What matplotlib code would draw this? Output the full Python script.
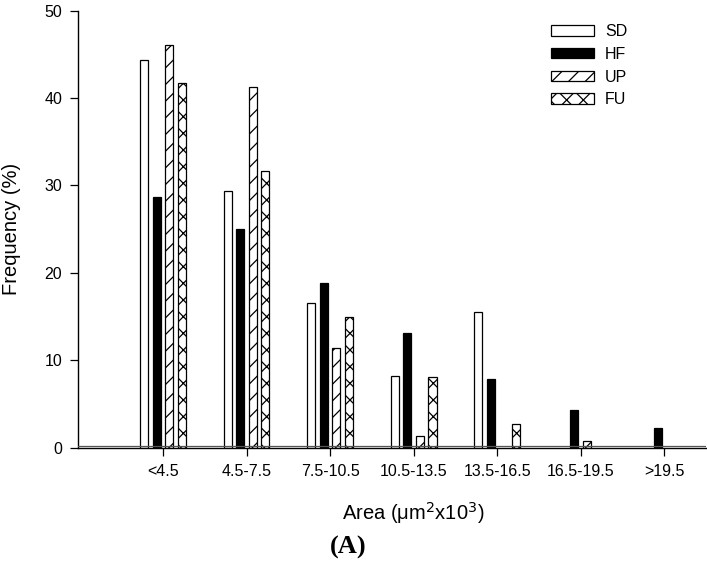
import numpy as np
import matplotlib
matplotlib.use('Agg')
import matplotlib.pyplot as plt

plt.rcParams['font.family'] = ['Liberation Sans', 'DejaVu Sans']
plt.rcParams['hatch.linewidth'] = 0.9

# Area classes (um^2 x 10^3)
categories = ['<4.5', '4.5-7.5', '7.5-10.5', '10.5-13.5', '13.5-16.5', '16.5-19.5', '>19.5']

# Frequency (%) per group
sd = [44.4, 29.4, 16.5, 8.2, 15.5, 0, 0]
hf = [28.7, 25.0, 18.8, 13.1, 7.9, 4.3, 2.3]
up = [46.1, 41.3, 11.4, 1.3, 0, 0.8, 0]
fu = [41.7, 31.7, 14.9, 8.1, 2.7, 0, 0]

series = [('SD', sd, 'white', ''),
          ('HF', hf, 'black', ''),
          ('UP', up, 'white', '//'),
          ('FU', fu, 'white', 'xx')]

fig = plt.figure(figsize=(7.07, 5.63), dpi=100)
ax = fig.add_axes([0.1103, 0.2048, 0.8883, 0.7762])

x = np.arange(len(categories))
step = 0.15
width = 0.096
for i, (name, vals, color, hatch) in enumerate(series):
    offs = (i - 1.5) * step
    vals = np.array(vals)
    mask = vals > 0
    ax.bar(x[mask] + offs, vals[mask], width=width, color=color, edgecolor='black',
           linewidth=0.9, hatch=hatch, label=name, zorder=2)

# double baseline like the original
ax.axhline(0.2, color='#555555', linewidth=0.9, zorder=3)

ax.set_xlim(-1.02, 6.5)
ax.set_ylim(0, 50)
ax.set_yticks([0, 10, 20, 30, 40, 50])
ax.set_xticks(x)
ax.set_xticklabels(categories)
ax.tick_params(axis='both', labelsize=11.5, direction='out', length=6, width=0.9)
ax.tick_params(axis='x', pad=5.5)
ax.tick_params(axis='y', pad=5.5)
for s in ['top', 'right']:
    ax.spines[s].set_visible(False)
ax.spines['left'].set_linewidth(1.0)
ax.spines['bottom'].set_linewidth(1.0)

ax.set_ylabel('Frequency (%)', fontsize=14.5)
ax.yaxis.set_label_coords(-0.091, 0.5)
fig.text(0.584, 0.088, r'Area ($\mathregular{\mu}$m$^{2}$x10$^{3}$)', fontsize=14.5,
         ha='center', va='center')
fig.text(0.492, 0.027, '(A)', fontsize=19, fontweight='bold', family='Liberation Serif',
         ha='center', va='center')

ax.legend(loc='upper left', bbox_to_anchor=(0.779, 0.957), bbox_transform=fig.transFigure,
          frameon=False, fontsize=11.5, handlelength=2.7, handleheight=0.62,
          labelspacing=0.48, handletextpad=0.69, borderpad=0, borderaxespad=0)

fig.savefig('out.png', dpi=100)
